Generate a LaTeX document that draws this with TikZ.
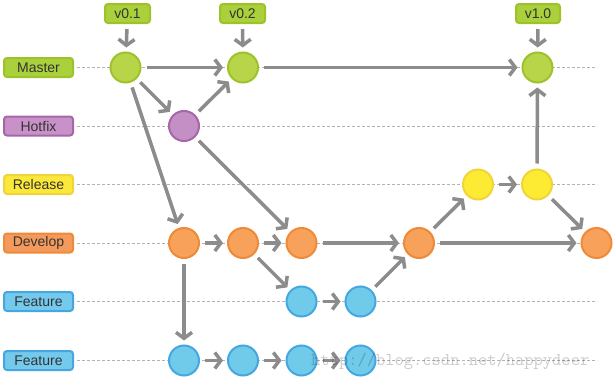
\documentclass[tikz,border=0pt]{standalone}
\usepackage{fontspec}
\setmainfont{Liberation Sans}
\usetikzlibrary{arrows.meta}
\definecolor{gfill}{HTML}{B8D54A}
\definecolor{gdraw}{HTML}{9DC22A}
\definecolor{glab}{HTML}{AAD03C}
\definecolor{pfill}{HTML}{C48FC4}
\definecolor{pdraw}{HTML}{A468A8}
\definecolor{plab}{HTML}{C892C9}
\definecolor{yfill}{HTML}{FCEB32}
\definecolor{ydraw}{HTML}{F0D43C}
\definecolor{ylab}{HTML}{FBE83A}
\definecolor{ofill}{HTML}{F7A15A}
\definecolor{odraw}{HTML}{EF8A38}
\definecolor{olab}{HTML}{F49A5C}
\definecolor{bfill}{HTML}{70CBEA}
\definecolor{bdraw}{HTML}{46A6E0}
\definecolor{blab}{HTML}{74CAEC}
\definecolor{arrgray}{HTML}{8C8C8C}
\definecolor{txt}{HTML}{333333}
\tikzset{
  commit/.style={circle, minimum size=30pt, inner sep=0pt, line width=2pt},
  gc/.style={commit, fill=gfill, draw=gdraw},
  pc/.style={commit, fill=pfill, draw=pdraw},
  yc/.style={commit, fill=yfill, draw=ydraw},
  oc/.style={commit, fill=ofill, draw=odraw},
  bc/.style={commit, fill=bfill, draw=bdraw},
  lab/.style={rounded corners=3pt, minimum width=69pt, minimum height=19pt, inner sep=0pt, line width=2pt, font=\fontsize{14}{16}\selectfont, text=txt},
  tag/.style={lab, minimum width=45pt},
  arr/.style={draw=arrgray, line width=3.5pt, -{Straight Barb[length=6pt,width=16pt]}, shorten <=5pt, shorten >=4pt},
  guide/.style={draw=black!30, line width=0.7pt, dash pattern=on 3pt off 2pt},
}
\begin{document}
\begin{tikzpicture}[x=1pt,y=-1pt]
\useasboundingbox (0,0) rectangle (614,380);
% labels
\node[lab, fill=glab, draw=gdraw] (lm) at (38.5,67.5) {Master};
\node[lab, fill=plab, draw=pdraw] (lh) at (38.5,126) {Hotfix};
\node[lab, fill=ylab, draw=ydraw] (lr) at (38.5,184.5) {Release};
\node[lab, fill=olab, draw=odraw] (ld) at (38.5,243) {Develop};
\node[lab, fill=blab, draw=bdraw] (lf) at (38.5,301.5) {Feature};
\node[lab, fill=blab, draw=bdraw] (lg) at (38.5,360.5) {Feature};
% guide ends
\coordinate (em) at (597,67.5);
\coordinate (eh) at (597,126);
\coordinate (er) at (597,184.5);
\coordinate (ed) at (597,243);
\coordinate (ef) at (597,301.5);
\coordinate (eg) at (597,360.5);
\draw[guide] (lm.east) ++(3,0) -- (em);
\draw[guide] (lh.east) ++(3,0) -- (eh);
\draw[guide] (lr.east) ++(3,0) -- (er);
\draw[guide] (ld.east) ++(3,0) -- (ed);
\draw[guide] (lf.east) ++(3,0) -- (ef);
\draw[guide] (lg.east) ++(3,0) -- (eg);
% tags
\node[tag, fill=glab, draw=gdraw] (t1) at (127.5,13.5) {v0.1};
\node[tag, fill=glab, draw=gdraw] (t2) at (242.5,13.5) {v0.2};
\node[tag, fill=glab, draw=gdraw, minimum width=44pt] (t3) at (538,13.5) {v1.0};
% commits
\node[gc] (m1) at (125.5,67.5) {};
\node[gc] (m2) at (243,67.5) {};
\node[gc] (m3) at (537.5,67.5) {};
\node[pc] (h1) at (184,126) {};
\node[yc] (r1) at (478,184.5) {};
\node[yc] (r2) at (537,184.5) {};
\node[oc] (d1) at (184,243) {};
\node[oc] (d2) at (243,243) {};
\node[oc] (d3) at (301.5,243) {};
\node[oc] (d4) at (419,243) {};
\node[oc] (d5) at (596.5,243) {};
\node[bc] (f1) at (301.5,301.5) {};
\node[bc] (f2) at (360.5,301.5) {};
\node[bc] (g1) at (184,360.5) {};
\node[bc] (g2) at (243,360.5) {};
\node[bc] (g3) at (301.5,360.5) {};
\node[bc] (g4) at (360.5,360.5) {};
% arrows
\draw[arr] (t1) -- (m1);
\draw[arr] (t2) -- (m2);
\draw[arr] (t3) -- (m3);
\draw[arr] (m1) -- (m2);
\draw[arr] (m1) -- (h1);
\draw[arr] (h1) -- (m2);
\draw[arr] (m1) -- (d1);
\draw[arr] (h1) -- (d3);
\draw[arr] (m2) -- (m3);
\draw[arr] (d1) -- (d2);
\draw[arr] (d2) -- (d3);
\draw[arr] (d3) -- (d4);
\draw[arr] (d4) -- (d5);
\draw[arr] (d2) -- (f1);
\draw[arr] (f1) -- (f2);
\draw[arr] (f2) -- (d4);
\draw[arr] (d4) -- (r1);
\draw[arr] (r1) -- (r2);
\draw[arr] (r2) -- (m3);
\draw[arr] (r2) -- (d5);
\draw[arr] (d1) -- (g1);
\draw[arr] (g1) -- (g2);
\draw[arr] (g2) -- (g3);
\draw[arr] (g3) -- (g4);
% watermark
\node[anchor=base west, inner sep=0pt, text=black, opacity=0.2, font=\ttfamily\fontsize{18}{20}\selectfont] (wm) at (311,365) {http://blog.csdn.net/happydeer};
\end{tikzpicture}
\end{document}
